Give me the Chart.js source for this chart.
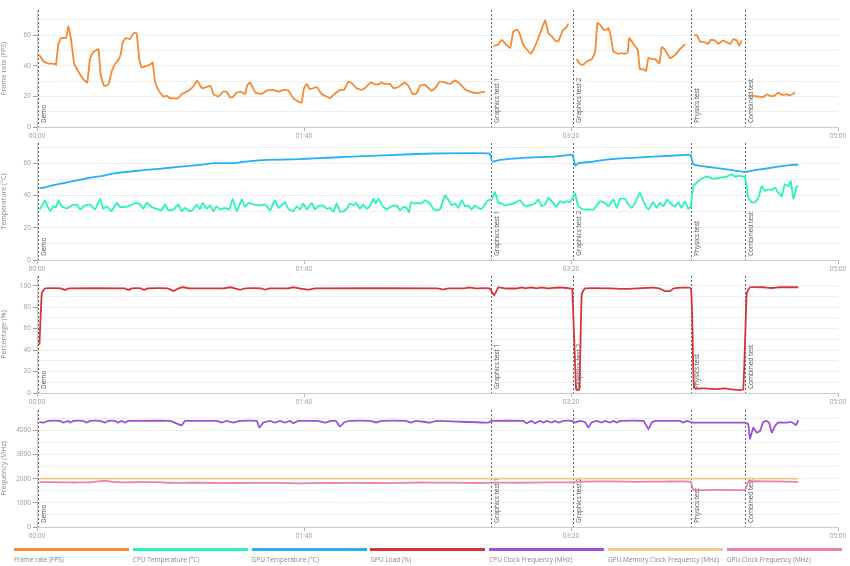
<!DOCTYPE html>
<html>
<head>
<meta charset="utf-8">
<script src="https://cdn.jsdelivr.net/npm/chart.js@4/dist/chart.umd.min.js"></script>
<style>
body { margin:0; background:#fff; width:850px; height:566px; position:relative; overflow:hidden; font-family:"Open Sans", sans-serif; }
canvas { position:absolute; left:0; }
.lg { position:absolute; top:548px; width:115px; }
.lg .bar { height:3px; }
.lg .txt { font-size:6.5px; color:#888; margin-top:4px; white-space:nowrap; }
</style>
</head>
<body>
<canvas id="c0" width="850" height="141" style="top:0px"></canvas>
<canvas id="c1" width="850" height="141" style="top:133px"></canvas>
<canvas id="c2" width="850" height="141" style="top:266px"></canvas>
<canvas id="c3" width="850" height="141" style="top:400px"></canvas>
<div id="legend"></div>
<script>
// test phases (seconds)
var markerTimes = [0.2, 170, 200.8, 245, 265.2];
var markerLabels = ['Demo', 'Graphics test 1', 'Graphics test 2', 'Physics test', 'Combined test'];

// [time (s), value]; null = gap between tests
var fps = [[0.9,47],[2.4,43],[4.2,41.5],[6.7,41.3],[7.1,40.7],[8.0,53.8],[9.0,58.2],[10.9,58.2],[11.7,65.8],[12.6,59.2],[13.9,41.7],[15.1,37.4],[17.1,31.9],[18.8,29],[19.8,44.4],[20.9,48.7],[23.0,50.9],[23.9,33.4],[25.1,26.9],[26.7,27.5],[28.0,36.3],[29.2,41.3],[30.4,43.5],[31.3,47.2],[32.1,55.3],[33.3,58.2],[34.8,57.5],[36.1,61.4],[37.3,61.4],[38.3,44.4],[39.2,38.9],[41.1,40],[42.3,40.7],[43.3,42.2],[44.2,29.7],[45.4,24.3],[47.3,19.9],[48.6,20.3],[49.8,18.8],[52.9,18.8],[54.2,21.6],[56.1,23.1],[57.9,25.4],[58.9,27.5],[60.0,30.4],[61.7,25.4],[62.9,25.8],[65.1,26.9],[66.0,21.6],[68.0,19.9],[69.6,23.1],[71.0,23.1],[72.3,19.5],[73.3,19.5],[74.8,22.5],[76.3,23.1],[77.9,21.6],[78.8,27.5],[79.8,29.1],[81.8,22.5],[82.9,22],[84.2,21.6],[86.0,23.8],[88.5,24.3],[90.4,23.1],[92.9,24.5],[94.1,24],[96.0,18.8],[97.9,16.6],[99.1,15.9],[100.0,25.4],[101.0,28.2],[102.2,24.7],[104.8,26],[106.6,21.6],[109.7,18.8],[111.0,21],[113.5,24.3],[115.0,24.3],[116.6,29.7],[117.9,28.6],[119.7,25.4],[121.6,24.3],[122.8,25.4],[125.0,29.1],[126.6,28],[128.2,28],[129.1,29.1],[130.0,28.2],[132.2,28.2],[133.5,25.4],[135.3,26],[137.8,29.1],[139.1,26.9],[140.7,21.6],[142.2,22],[143.4,26.9],[145.3,27.5],[147.8,23.8],[149.1,25.4],[150.9,29.7],[152.8,29.1],[154.7,28.2],[156.6,30.4],[158.4,28.2],[160.3,24.7],[162.2,23.1],[164.7,22.1],[167.8,23.1],
  [169.5,null],
  [170.9,53.1],[172.8,54],[174.0,57],[177.2,51.6],[178.4,62.5],[179.9,63.6],[180.9,60.3],[182.1,53.8],[184.9,47.9],[185.9,50.5],[187.8,58.2],[190.3,69.7],[191.5,61.4],[192.8,59.2],[194.0,56.6],[195.2,55.9],[196.9,63.1],[198.1,64.7],[199.0,67.5],
  [200.5,null],
  [202.1,44.4],[203.4,41.1],[204.6,40.7],[205.9,42.8],[207.8,44.4],[209.0,48.7],[209.9,68],[210.9,66.9],[212.2,63.6],[213.4,63.6],[214.0,64.7],[214.9,59.2],[215.9,49.4],[217.7,47.9],[219.0,48.3],[220.2,47.9],[221.2,48.7],[221.8,58.2],[223.6,53.8],[225.0,50.5],[225.8,37.8],[227.1,37.8],[228.1,36.7],[229.0,45.2],[230.2,44.4],[231.5,44.4],[233.1,41.7],[234.0,52.3],[235.2,50.5],[237.1,45],[239.0,47.2],[240.8,50.9],[242.7,54.2],
  [244.5,null],
  [246.2,59.7],[247.1,60.3],[248.3,55.9],[250.2,55.3],[251.4,54.4],[252.3,57],[253.9,56.6],[255.2,54.4],[257.0,56.6],[258.3,55.3],[259.8,54.4],[260.8,57.5],[262.1,56.6],[263.0,53.1],[263.9,56.6],
  [265,null],
  [266.4,20.3],[268.3,20.3],[270.2,19.9],[272.0,19.5],[273.3,21.4],[274.5,20.3],[276.0,20.3],[277.6,22.5],[278.9,21],[280.8,21.4],[282.0,20.6],[283.9,22.5]];

var cpuTemp = [[0.9,31.3],[1.8,33.3],[3.0,37.1],[4.2,32.3],[5.1,30.6],[6.1,33.3],[7.1,32.7],[8.0,37.1],[9.2,33.3],[11.1,31.9],[13.0,33.8],[14.9,34.4],[16.1,31.3],[18.0,33.8],[19.8,34.4],[21.7,31.3],[23.6,37.9],[24.8,31.7],[26.1,33.3],[27.9,30.2],[29.8,35.4],[31.1,32.9],[33.6,32.9],[35.5,34.4],[37.3,35.4],[38.6,34.4],[39.8,31.7],[41.1,35.4],[42.9,32.9],[44.8,31.7],[46.7,30.8],[47.9,34.4],[49.2,30.8],[51.1,31.3],[52.9,34.4],[54.2,30.2],[55.4,32.3],[57.3,30.2],[58.5,31.3],[59.8,34.4],[61.0,31.3],[62.0,35.4],[63.5,31.7],[64.8,33.8],[66.0,30.2],[67.3,33.3],[68.5,31.3],[70.4,32.3],[72.0,31.3],[73.3,37.9],[74.8,30.2],[76.7,37.5],[77.9,32.9],[79.2,35.4],[81.0,34.4],[83.5,33.8],[85.4,34.4],[87.3,30.8],[89.1,37.1],[90.4,32.3],[92.9,35.8],[94.1,31.7],[96.0,30.2],[97.3,33.3],[98.5,31.3],[99.7,35],[101.0,31.3],[102.9,35.4],[104.1,31.3],[105.4,33.3],[107.2,33.8],[108.5,31.7],[109.7,32.3],[111.0,29.8],[112.2,35],[113.5,29.8],[114.7,30.2],[116.0,31.7],[117.2,35],[118.5,33.8],[119.4,35.4],[121.0,31.7],[122.2,34.4],[123.5,31.7],[124.7,33.3],[126.0,37.9],[126.8,35],[127.8,37.9],[129.7,32.9],[131.0,31.3],[132.8,33.3],[134.7,33.8],[136.0,30.8],[137.2,32.9],[138.5,32.3],[139.3,29.6],[140.1,35.8],[141.6,35],[142.8,35.4],[144.1,35],[145.3,37.1],[147.2,35],[148.4,31.7],[149.7,30.8],[150.9,31.3],[151.6,34.4],[152.8,40],[154.0,37.5],[155.3,33.8],[156.6,35],[157.8,32.3],[159.1,37.1],[160.3,33.3],[161.5,33.8],[162.8,31.3],[164.0,33.8],[165.2,32.3],[166.5,31.7],[167.8,34.4],[169.0,37.1],[170.3,37.5],[171.5,42.1],[172.8,35.4],[173.4,35.4],[175.3,33.8],[177.2,34.4],[179.0,35.4],[180.9,37.1],[182.1,34.4],[183.4,33.3],[185.3,34.4],[186.5,35],[187.8,37.5],[189.0,33.3],[190.3,34.4],[191.5,38.5],[192.8,36.5],[194.6,32.9],[195.9,36.5],[197.1,35.4],[198.4,36.5],[199.6,35.8],[200.6,38.5],[201.5,41.3],[202.7,33.3],[204.6,31.3],[206.5,31.3],[208.4,31.3],[210.9,36.5],[212.7,35.4],[214.0,33.3],[215.9,37.5],[217.1,32.3],[218.4,37.9],[220.2,37.9],[221.5,34.4],[222.7,32.3],[224.0,35.4],[225.8,41.7],[227.1,36.5],[229.0,31.3],[230.8,35.8],[232.1,32.3],[233.3,35.4],[234.6,33.3],[236.1,37.5],[237.7,34.4],[239.0,33.3],[240.2,35.8],[241.4,32.3],[242.7,36.5],[243.9,31.7],[244.8,33.3],[245.8,45.8],[247.1,47.9],[248.9,50.4],[250.8,51.7],[253.3,50.4],[255.8,51],[258.3,51.7],[260.2,53.1],[261.4,51.7],[263.3,52.1],[264.5,51.7],[265.2,51.7],[266.4,38.5],[267.7,35.8],[268.9,35.8],[270.2,38.5],[271.4,45.8],[272.7,42.7],[273.9,43.8],[275.2,43.3],[276.4,44.8],[277.6,41.7],[278.9,39.6],[280.1,46.9],[281.4,45.8],[282.3,48.9],[283.3,37.9],[284.5,45.4],[285.1,45.8]];

var gpuTemp = [[0.9,44.5],[3,45],[5,46],[8,47],[11,48],[14,49],[17,50],[20,51],[24,52],[27,53],[30,54],[36,55],[42,56],[49,57],[55,58],[61,59],[67,60],[74,60],[78,61],[86,62],[98,62.5],[104,63],[118,64],[132,65],[148,66],[169.5,66],[170.5,61],[173.4,62],[176,62.5],[183.4,63.5],[193.4,64],[199.6,65.2],[200.6,65],[201.6,58.5],[202.7,60],[208.4,61],[214.6,62.5],[224.6,63.5],[230.8,64],[243.3,65.2],[244.8,65],[245.8,59.4],[248.3,58.3],[253.3,57.3],[260.8,55.5],[265.2,54.5],[268.3,55.5],[273.3,56.7],[278.3,58],[283.3,59],[285.1,59]];

var gpuLoad = [[0.9,45],[1.8,93],[3.0,97.5],[9,97.5],[10.5,96],[12,97.5],[33,97.5],[34.2,96],[35.5,97.5],[39,97.5],[40,96],[41.5,97.5],[49,97.5],[51.1,95],[53,97.5],[55,98.5],[57,97.5],[70,97.5],[72.3,98.5],[74,97.5],[76,96.2],[78,97.5],[84,97.5],[85.5,96.2],[87,97.5],[94,97.5],[96,98.5],[98,97.5],[102,96.3],[104,97.5],[150,97.5],[152,96.5],[154,97.5],[160,97.5],[162,98.3],[164,97.5],[169.5,97.5],[171.2,91],[172.8,98.5],[175,97.5],[180,97.5],[181.5,98.3],[183,97.5],[185,98.3],[187,97.5],[189,98.3],[191,97.5],[196,98.3],[199.5,97.5],[200.5,97],[201.9,3],[203.1,3],[204.0,92],[205.2,97.5],[215,97.5],[220,97],[225,97.5],[230,98.2],[233,97.5],[235.2,95],[237.1,95],[238.5,97.5],[244.9,97.5],[246.1,4.6],[250,4.3],[255,3.7],[258,4.3],[260,3.4],[262,3],[264.5,3],[265.8,93],[267.0,98.5],[272,98.5],[275,97.8],[278,98.5],[285.1,98.5]];

var cpuClock = [[0.9,4347],[2.4,4319],[4.2,4389],[8.6,4389],[9.9,4319],[11.7,4389],[12.4,4319],[13.6,4389],[17.3,4389],[18.6,4319],[19.8,4389],[23.6,4389],[25.5,4319],[26.7,4389],[29.2,4389],[30.4,4319],[31.7,4389],[32.9,4319],[34.2,4389],[36.1,4389],[49.8,4389],[54.2,4208],[55.4,4389],[59.8,4389],[67.3,4389],[69.2,4319],[71.0,4389],[73.5,4319],[76.0,4389],[82.3,4389],[83.3,4111],[84.8,4319],[87.3,4389],[89.1,4319],[91.0,4389],[92.9,4319],[94.7,4389],[96.0,4292],[97.9,4389],[105,4389],[108,4319],[110,4389],[112,4389],[113.5,4150],[115,4319],[117,4389],[125,4389],[127,4319],[129,4389],[138,4389],[140,4319],[142,4389],[147.2,4319],[149.7,4389],[169.0,4319],[170.3,4389],[182.1,4389],[183.4,4292],[185.3,4389],[186.5,4292],[188.4,4389],[189.6,4319],[190.9,4389],[192.8,4319],[194.0,4389],[195.3,4319],[197.1,4389],[200.3,4389],[201.5,4319],[203.4,4389],[205.2,4347],[206.5,4111],[207.7,4319],[209.6,4389],[211.5,4319],[212.7,4389],[214.6,4319],[215.9,4389],[217.1,4319],[218.4,4389],[227.1,4389],[229.0,4042],[230.2,4319],[231.5,4389],[240.8,4389],[242.0,4319],[243.3,4389],[244.8,4347],[245.8,4319],[265.2,4319],[266.4,4250],[267.0,3653],[268.3,4111],[269.5,3903],[270.8,3972],[272.0,4347],[273.3,4389],[274.3,4292],[275.2,3903],[276.4,4180],[277.6,4319],[280.8,4319],[282.0,4347],[283.3,4292],[284.3,4208],[285.1,4417]];

var gpuMemClock = [[0.9,2000],[100,2000],[200,2000],[285.1,2000]];

var gpuClock = [[0.9,1860],[10,1850],[13.6,1840],[17.3,1850],[20,1845],[23.6,1900],[26,1910],[28,1870],[32,1850],[40,1855],[45,1860],[49,1830],[55,1825],[60,1835],[66,1820],[70,1815],[80,1825],[90,1825],[97.9,1805],[110,1820],[120,1825],[130,1815],[143,1840],[155,1835],[165,1820],[170,1835],[180,1830],[190,1845],[200,1850],[205,1880],[215,1885],[225,1870],[235,1880],[244.8,1880],[245.8,1540],[255,1535],[265.2,1540],[266.4,1880],[275,1885],[285.1,1870]];

var legendNames = ['Frame rate (FPS)', 'CPU Temperature (°C)', 'GPU Temperature (°C)', 'GPU Load (%)', 'CPU Clock Frequency (MHz)', 'GPU Memory Clock Frequency (MHz)', 'GPU Clock Frequency (MHz)'];
var colors = ['#f58a33', '#27f3bf', '#25b1f7', '#d6343a', '#9653d5', '#f0c98a', '#ec80a9'];

var FONT = '"Open Sans", sans-serif';

function mmss(v) {
    var m = Math.floor(v / 60), s = Math.round(v % 60);
    return (m < 10 ? '0' : '') + m + ':' + (s < 10 ? '0' : '') + s;
}

function toXY(arr) {
    return arr.map(function (p) { return { x: p[0], y: p[1] }; });
}

var markerPlugin = {
    id: 'markers',
    beforeDatasetsDraw: function (chart) {
        var ctx = chart.ctx, a = chart.chartArea, x = chart.scales.x;
        ctx.save();
        for (var i = 0; i < markerTimes.length; i++) {
            var px = Math.round(x.getPixelForValue(markerTimes[i])) + 0.5;
            ctx.strokeStyle = '#666';
            ctx.lineWidth = 1;
            ctx.setLineDash([2, 2]);
            ctx.beginPath();
            ctx.moveTo(px, a.top);
            ctx.lineTo(px, a.bottom);
            ctx.stroke();
            ctx.save();
            ctx.translate(px + 2, a.bottom - 4);
            ctx.rotate(-Math.PI / 2);
            ctx.font = '6.5px ' + FONT;
            ctx.fillStyle = '#555';
            ctx.textBaseline = 'top';
            ctx.textAlign = 'left';
            ctx.fillText(markerLabels[i], 0, 0);
            ctx.restore();
        }
        ctx.restore();
    }
};

function line(label, data, color) {
    return {
        label: label,
        data: toXY(data),
        borderColor: color,
        backgroundColor: color,
        borderWidth: 1.8,
        pointRadius: 0,
        tension: 0.1,
        spanGaps: false
    };
}

function makeChart(id, datasets, title, max, step, labelEvery) {
    new Chart(document.getElementById(id), {
        type: 'line',
        data: { datasets: datasets },
        plugins: [markerPlugin],
        options: {
            responsive: false,
            animation: false,
            layout: { padding: { top: 10, right: 12, left: 0, bottom: 0 } },
            plugins: { legend: { display: false }, tooltip: { enabled: false } },
            scales: {
                x: {
                    type: 'linear', min: 0, max: 300,
                    ticks: { stepSize: 100, callback: mmss, color: '#999', font: { family: FONT, size: 6.5 }, padding: 1, maxRotation: 0, autoSkip: false },
                    grid: { drawOnChartArea: false, tickLength: 4, color: '#bbb' },
                    border: { color: '#ccc' },
                    afterFit: function (s) { s.height = 14; }
                },
                y: {
                    min: 0, max: max,
                    // fixed grid step (chart.js rescales stepSize when max is not a multiple)
                    afterBuildTicks: function (s) {
                        var t = [];
                        for (var v = 0; v < max; v += step) t.push({ value: v });
                        s.ticks = t;
                    },
                    ticks: {
                        autoSkip: false,
                        callback: function (v) { return v % labelEvery === 0 ? String(v) : ''; },
                        color: '#999', font: { family: FONT, size: 6.5 }, padding: 2
                    },
                    grid: {
                        color: '#eee', tickLength: 4,
                        tickColor: function (c) { return c.tick && c.tick.value % labelEvery === 0 ? '#999' : 'rgba(0,0,0,0)'; }
                    },
                    border: { color: '#ccc' },
                    title: { display: true, text: title, color: '#888', font: { family: FONT, size: 7 }, padding: 0 },
                    afterFit: function (s) { s.width = 37; }
                }
            }
        }
    });
}

makeChart('c0', [line(legendNames[0], fps, colors[0])], 'Frame rate (FPS)', 76.5, 10, 20);
makeChart('c1', [line(legendNames[2], gpuTemp, colors[2]), line(legendNames[1], cpuTemp, colors[1])], 'Temperature (°C)', 72.5, 10, 20);
makeChart('c2', [line(legendNames[3], gpuLoad, colors[3])], 'Percentage (%)', 109, 10, 20);
makeChart('c3', [line(legendNames[5], gpuMemClock, colors[5]), line(legendNames[6], gpuClock, colors[6]), line(legendNames[4], cpuClock, colors[4])], 'Frequency (MHz)', 4840, 500, 1000);

// shared legend under the panels
var lg = document.getElementById('legend');
legendNames.forEach(function (name, i) {
    var d = document.createElement('div');
    d.className = 'lg';
    d.style.left = (14 + i * 118.8) + 'px';
    d.innerHTML = '<div class="bar" style="background:' + colors[i] + '"></div><div class="txt">' + name + '</div>';
    lg.appendChild(d);
});
</script>
</body>
</html>
